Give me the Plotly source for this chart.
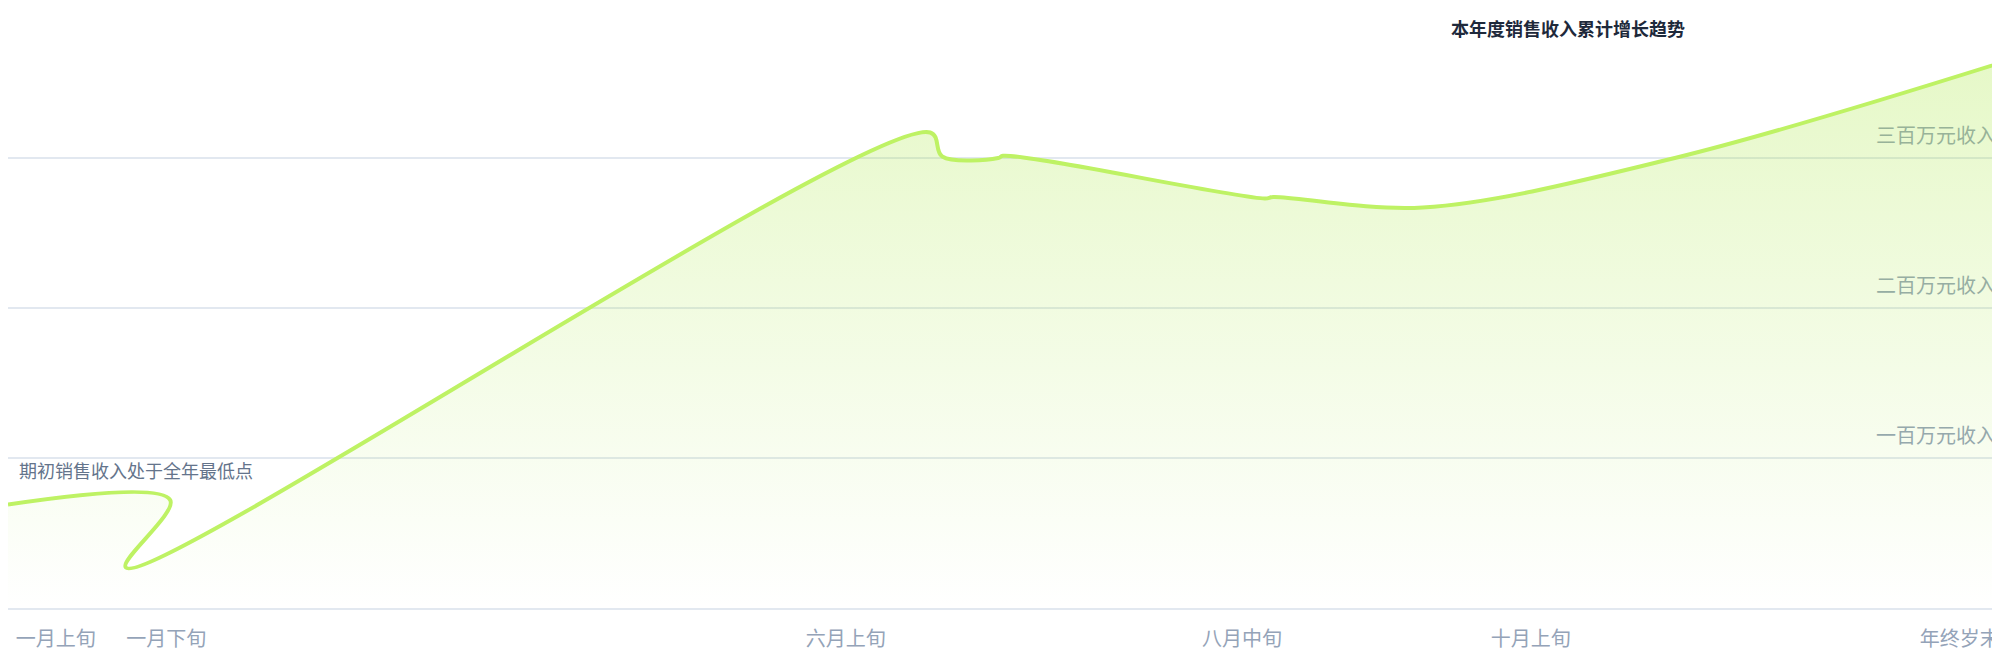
import plotly.graph_objects as go

# day of year (non monotonic around the start, as in the source) and revenue in 万元
x_vals = [0, 29.6, 21.5, 168.3, 170.5, 180.7, 181.6, 229.4, 230.9, 258.2, 304.2, 365]
y_vals = [69, 72, 27, 317, 301, 300, 301.5, 273, 274, 267, 300, 365]

x_ticks = [8.7, 28.9, 152.9, 225.2, 277.9, 356.2]
x_labels = ['一月上旬', '一月下旬', '六月上旬', '八月中旬', '十月上旬', '年终岁末']

y_ticks = [100, 200, 300]
y_labels = ['一百万元收入', '二百万元收入', '三百万元收入']

title_text = '本年度销售收入累计增长趋势'
note_text = '期初销售收入处于全年最低点'

cjk = 'Noto Sans CJK SC'

fig = go.Figure()

fig.add_trace(go.Scatter(
    x=x_vals, y=y_vals, mode='lines',
    line=dict(shape='spline', smoothing=1, color='#bef264', width=4, simplify=False),
    fill='tozeroy',
    fillgradient=dict(type='vertical',
                      colorscale=[[0, 'rgba(163,230,53,0.0)'], [1, 'rgba(163,230,53,0.3)']],
                      start=0, stop=400),
    hoverinfo='skip'))

fig.add_annotation(text=note_text, xref='paper', x=0, xanchor='left', xshift=9,
                   yref='y', y=100, yanchor='top', yshift=3, showarrow=False,
                   font=dict(family=cjk, size=18, color='#64748b'))

fig.update_layout(
    width=2000, height=660,
    margin=dict(l=0, r=0, t=0, b=60),
    paper_bgcolor='white', plot_bgcolor='white',
    showlegend=False,
    title=dict(text=title_text, x=0.78, xanchor='center', xref='paper',
               y=1 - 21.5 / 660, yref='container', yanchor='middle',
               font=dict(family=cjk, size=18, color='#1e293b', weight='bold')),
    xaxis=dict(range=[0, 365], tickvals=x_ticks, ticktext=x_labels,
               showgrid=False, zeroline=False, showline=True,
               linecolor='#e2e8f0', linewidth=2, ticks='',
               ticklabelstandoff=12, ticklabeloverflow='allow',
               tickfont=dict(family=cjk, size=20, color='#94a3b8')),
    yaxis=dict(range=[0, 400], tickvals=y_ticks, ticktext=y_labels,
               side='right', ticklabelposition='outside', ticks='',
               ticklabelshift=-22, ticklabelstandoff=-133, ticklabeloverflow='allow',
               showgrid=True, gridcolor='#e2e8f0', gridwidth=1.5,
               zeroline=False, showline=False, layer='below traces',
               tickfont=dict(family=cjk, size=20, color='#94a3b8')),
)

fig.write_html('out.html')
